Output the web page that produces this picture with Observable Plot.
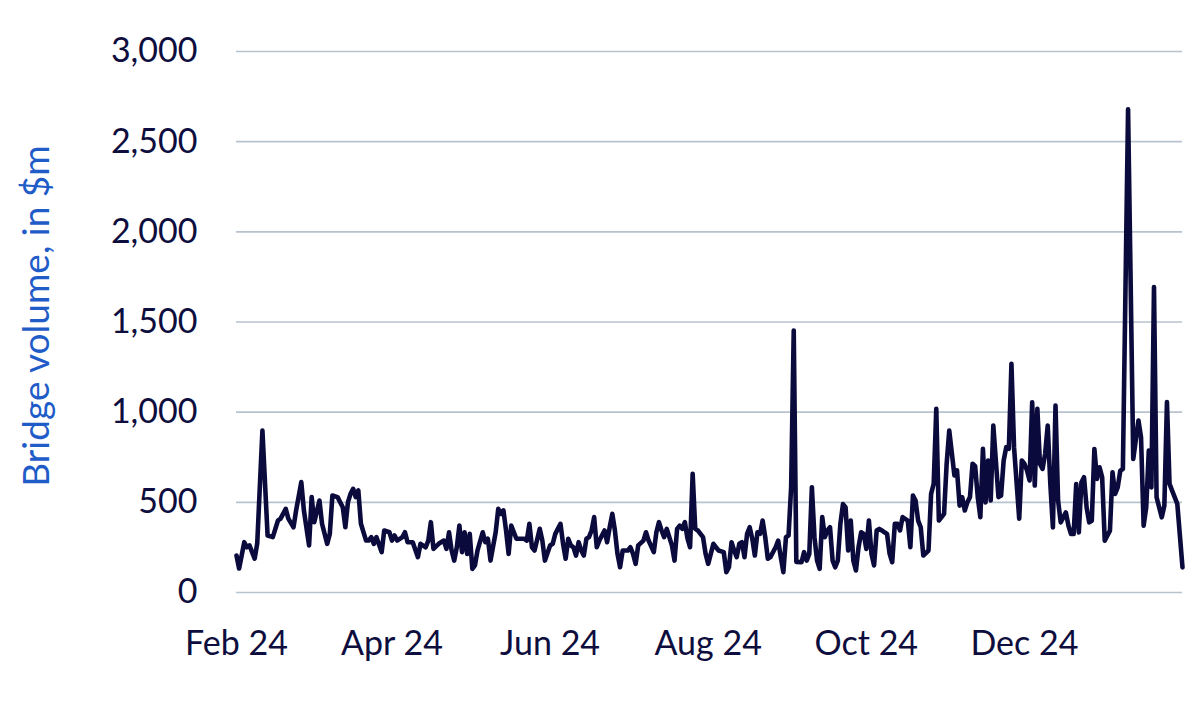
<!DOCTYPE html>
<html>
<head>
<meta charset="utf-8">
<script src="https://cdn.jsdelivr.net/npm/d3@7"></script>
<script src="https://cdn.jsdelivr.net/npm/@observablehq/plot@0.6"></script>
<style>
  html, body { margin: 0; padding: 0; background: #ffffff; }
  #chart { width: 1200px; height: 705px; }
</style>
</head>
<body>
<div id="chart"></div>
<script>
// Daily bridge volume ($m): [day of month, value]
const feb24 = [[1,205],[2,133],[4,279],[5,251],[6,261],[8,188],[9,272],[11,898],[13,316],[15,307],[17,399],[18,410],[20,464],[21,410],[23,362],[24,455],[26,612],[27,455],[29,261]];
const mar24 = [[1,529],[2,390],[4,510],[5,381],[7,270],[8,325],[9,538],[11,529],[13,473],[14,362],[15,501],[16,547],[17,575],[18,529],[19,566],[20,381],[22,288],[23,288],[24,307],[25,270],[26,307],[28,224],[29,344],[31,334]];
const apr24 = [[1,288],[2,316],[3,288],[5,307],[6,334],[7,279],[9,279],[11,196],[12,270],[14,251],[15,288],[16,390],[17,242],[19,270],[21,288],[22,242],[23,334],[24,233],[25,177],[26,251],[27,371],[28,224],[29,334],[30,214]];
const may24 = [[1,325],[2,131],[3,150],[4,233],[6,334],[7,279],[8,298],[9,177],[11,334],[12,464],[13,436],[14,455],[15,344],[16,214],[17,371],[19,298],[20,298],[22,298],[23,288],[24,381],[25,251],[26,233],[28,353],[29,288],[30,177]];
const jun24 = [[1,261],[2,270],[3,325],[5,381],[6,270],[7,187],[8,298],[9,261],[10,250],[11,205],[12,279],[13,233],[14,205],[15,298],[16,307],[17,344],[18,418],[19,251],[20,288],[22,344],[23,279],[24,362],[25,436],[26,344],[27,214],[28,140],[29,233]];
const jul24 = [[1,233],[2,251],[3,214],[4,159],[5,261],[7,288],[8,334],[9,288],[11,224],[12,334],[13,390],[14,344],[15,307],[16,353],[18,261],[19,177],[20,353],[21,371],[22,353],[23,390],[24,300],[25,251],[26,658],[27,353],[28,344],[30,307],[31,214]];
const aug24 = [[1,159],[3,270],[4,251],[5,233],[7,224],[8,113],[9,140],[10,279],[11,233],[12,196],[13,270],[14,279],[15,196],[16,325],[17,362],[18,298],[19,205],[20,334],[21,325],[22,399],[23,307],[24,187],[25,196],[27,251],[28,288],[29,196],[30,113],[31,307]];
const sep24 = [[1,316],[2,584],[3,1453],[4,170],[6,168],[7,224],[8,177],[9,214],[10,584],[11,307],[12,177],[13,131],[14,418],[15,307],[16,344],[17,362],[18,177],[19,140],[20,177],[21,381],[22,490],[23,473],[24,233],[25,399],[26,177],[27,122],[28,251],[29,334],[30,325]];
const oct24 = [[1,242],[2,399],[3,214],[4,150],[5,344],[6,353],[7,344],[8,334],[9,325],[10,214],[11,168],[12,381],[13,381],[14,344],[15,418],[17,399],[18,251],[19,538],[20,510],[21,399],[22,362],[23,205],[25,233],[26,547],[27,603],[28,1018],[29,399],[31,436]];
const nov24 = [[1,714],[2,898],[4,649],[5,677],[6,482],[7,529],[8,455],[9,500],[10,529],[11,714],[12,700],[13,529],[14,418],[15,797],[16,500],[17,732],[18,510],[19,926],[21,529],[22,538],[23,732],[24,806],[25,797],[26,1268],[27,806],[29,409],[30,732]];
const dec24 = [[1,714],[2,677],[3,621],[4,1055],[5,593],[6,1019],[7,713],[8,685],[9,769],[10,926],[11,602],[12,361],[13,1037],[14,509],[15,389],[17,444],[18,370],[19,324],[20,324],[21,602],[22,333],[23,611],[24,639],[25,472],[26,389],[27,398],[28,796],[29,630],[30,694],[31,639]];
const jan25 = [[1,287],[3,343],[4,667],[5,546],[6,583],[7,676],[8,685],[10,2680],[12,740],[14,954],[15,861],[16,370],[17,472],[18,787],[19,583],[20,1694],[21,528],[22,472],[23,417],[24,481],[25,1056],[26,602],[27,565],[29,491],[31,139]];

const months = [
  [2024, 1, feb24], [2024, 2, mar24], [2024, 3, apr24], [2024, 4, may24],
  [2024, 5, jun24], [2024, 6, jul24], [2024, 7, aug24], [2024, 8, sep24],
  [2024, 9, oct24], [2024, 10, nov24], [2024, 11, dec24], [2025, 0, jan25]
];

const yTicks = [0, 500, 1000, 1500, 2000, 2500, 3000];
const xTickDates = ["2024-02-01", "2024-04-01", "2024-06-01", "2024-08-01", "2024-10-01", "2024-12-01"];
const xDomain = ["2024-02-01", "2025-01-31"];
const yLabel = "Bridge volume, in $m";

const data = months.flatMap(([yr, mo, arr]) =>
  arr.map(([day, v]) => ({ date: new Date(Date.UTC(yr, mo, day)), value: v }))
);

const chart = Plot.plot({
  width: 1200,
  height: 705,
  marginLeft: 236,
  marginRight: 18,
  marginTop: 51,
  marginBottom: 113,
  style: {
    fontFamily: "Lato, 'Open Sans', sans-serif",
    fontSize: "34px",
    color: "#0e0e3e",
    background: "#ffffff",
    overflow: "visible"
  },
  x: { type: "utc", domain: xDomain.map(d => new Date(d + "T00:00:00Z")) },
  y: { domain: [0, 3000] },
  marks: [
    Plot.gridY(yTicks, { stroke: "#b7c3cf", strokeOpacity: 1, strokeWidth: 1.6 }),
    Plot.axisY(yTicks, {
      tickSize: 0, tickPadding: 39, tickFormat: d3.format(","), label: null
    }),
    Plot.axisX(xTickDates.map(d => new Date(d + "T00:00:00Z")), {
      tickSize: 0, tickPadding: 38, tickFormat: d3.utcFormat("%b %y"), label: null
    }),
    Plot.text([yLabel], {
      frameAnchor: "left", textAnchor: "middle", rotate: -90, dx: -199, dy: -6,
      fill: "#1f5cc8", fontSize: 37
    }),
    Plot.line(data, {
      x: "date", y: "value", stroke: "#0b0a3d", strokeWidth: 4.6,
      strokeLinejoin: "round", strokeLinecap: "round"
    })
  ]
});

document.getElementById("chart").appendChild(chart);
</script>
</body>
</html>
